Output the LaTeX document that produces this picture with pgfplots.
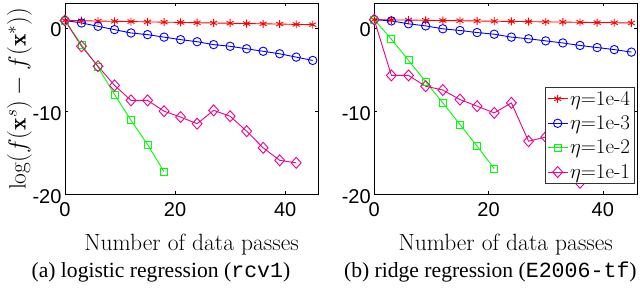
\documentclass[border=0pt]{standalone}
\usepackage{pgfplots}
\pgfplotsset{compat=1.18}
\usepackage{fontspec}
\newfontfamily\tickfont{Liberation Sans}
\newfontfamily\capfont{Liberation Serif}
\newfontfamily\capmono{Liberation Mono}

\pgfplotsset{
  myax/.style={
    scale only axis, anchor=south west,
    xmin=0, xmax=46, ymin=-20, ymax=3,
    xtick={0,20,40}, xticklabels={0,20,40},
    ytick={-20,-10,0}, yticklabels={-20,-10,0},
    tick align=inside, major tick length=3pt,
    tick style={black, line width=0.6pt},
    axis line style={black, line width=0.8pt},
    ticklabel style={font={\tickfont\fontsize{20}{22}\selectfont}},
    xticklabel style={yshift=-5pt},
    yticklabel style={yshift=-2pt},
    xlabel={Number of data passes},
    xlabel style={font={\fontsize{23.5}{25}\selectfont}, at={(axis description cs:0.5,0)}, anchor=base, yshift=-56.5pt},
  },
  pr/.style={red, line width=0.9pt, mark=asterisk, mark size=4pt, mark options={solid}},
  pb/.style={blue, line width=0.9pt, mark=o, mark size=4.2pt, mark options={solid}},
  pg/.style={green, line width=0.9pt, mark=square, mark size=3.5pt, mark options={solid}},
  pm/.style={magenta, line width=0.9pt, mark=diamond, mark size=5.5pt, mark options={solid, xscale=1.2}},
}

\begin{document}
\begin{tikzpicture}
\path (0pt,0pt) rectangle (640pt,-289pt);

\begin{axis}[myax, at={(65pt,-194.5pt)}, width=253.3pt, height=191.5pt,
  ylabel={$\log(f(\mathbf{x}^s)-f(\mathbf{x}^*))$},
  ylabel style={font={\fontsize{23.5}{26}\selectfont}, at={(axis description cs:-0.18,0.5)}, anchor=center},
]
\addplot[pr] coordinates {(0,0.9)(3,0.87)(6,0.83)(9,0.8)(12,0.77)(15,0.73)(18,0.7)(21,0.67)(24,0.63)(27,0.6)(30,0.57)(33,0.53)(36,0.5)(39,0.47)(42,0.43)(45,0.4)};
\addplot[pb] coordinates {(0,0.9)(3,0.6)(6,0.2)(9,-0.2)(12,-0.6)(15,-0.8)(18,-1.1)(21,-1.4)(24,-1.65)(27,-2.0)(30,-2.2)(33,-2.5)(36,-2.8)(39,-3.1)(42,-3.5)(45,-3.9)};
\addplot[pg] coordinates {(0,0.9)(3,-2.0)(6,-4.7)(9,-8.0)(12,-11.1)(15,-14.0)(18,-17.3)};
\addplot[pm] coordinates {(0,0.9)(3,-2.2)(6,-4.6)(9,-6.9)(12,-8.7)(15,-8.7)(18,-10.0)(21,-10.7)(24,-11.5)(27,-9.9)(30,-10.6)(33,-12.4)(36,-14.4)(39,-15.9)(42,-16.2)};
\end{axis}

\begin{axis}[myax, at={(374.3pt,-194.5pt)}, width=263pt, height=191.5pt,
  legend style={at={(0.99,0.563)}, anchor=north east, font={\fontsize{21}{23}\selectfont},
    draw=black!80, line width=0.8pt, fill=white, inner sep=2pt, row sep=5pt,
    cells={anchor=west}},
  legend image code/.code={\draw[mark repeat=2, mark phase=2] plot coordinates {(0pt,0pt)(10pt,0pt)(20pt,0pt)};},
]
\addplot[pr] coordinates {(0,1.0)(3,0.97)(6,0.95)(9,0.92)(12,0.89)(15,0.87)(18,0.84)(21,0.81)(24,0.79)(27,0.76)(30,0.73)(33,0.71)(36,0.68)(39,0.65)(42,0.63)(45,0.6)};
\addplot[pb] coordinates {(0,1.0)(3,0.85)(6,0.5)(9,0.25)(12,-0.1)(15,-0.3)(18,-0.55)(21,-0.75)(24,-1.1)(27,-1.3)(30,-1.55)(33,-1.8)(36,-2.1)(39,-2.35)(42,-2.6)(45,-2.9)};
\addplot[pg] coordinates {(0,1.0)(3,-1.35)(6,-3.9)(9,-6.45)(12,-9.0)(15,-11.6)(18,-14.2)(21,-16.9)};
\addplot[pm] coordinates {(0,1.0)(3,-5.7)(6,-5.7)(9,-7.0)(12,-7.45)(15,-8.6)(18,-9.4)(21,-10.2)(24,-9.0)(27,-13.6)(30,-13.1)(33,-15.5)(36,-18.6)};
\legend{$\eta$=1e-4, $\eta$=1e-3, $\eta$=1e-2, $\eta$=1e-1}
\end{axis}

\node[anchor=base, font={\capfont\fontsize{21.6}{24}\selectfont}] at (161pt,-278pt) {(a) logistic regression ({\capmono rcv1})};
\node[anchor=base, font={\capfont\fontsize{21.6}{24}\selectfont}] at (490.5pt,-278pt) {(b) ridge regression ({\capmono E2006-tf})};
\end{tikzpicture}
\end{document}
